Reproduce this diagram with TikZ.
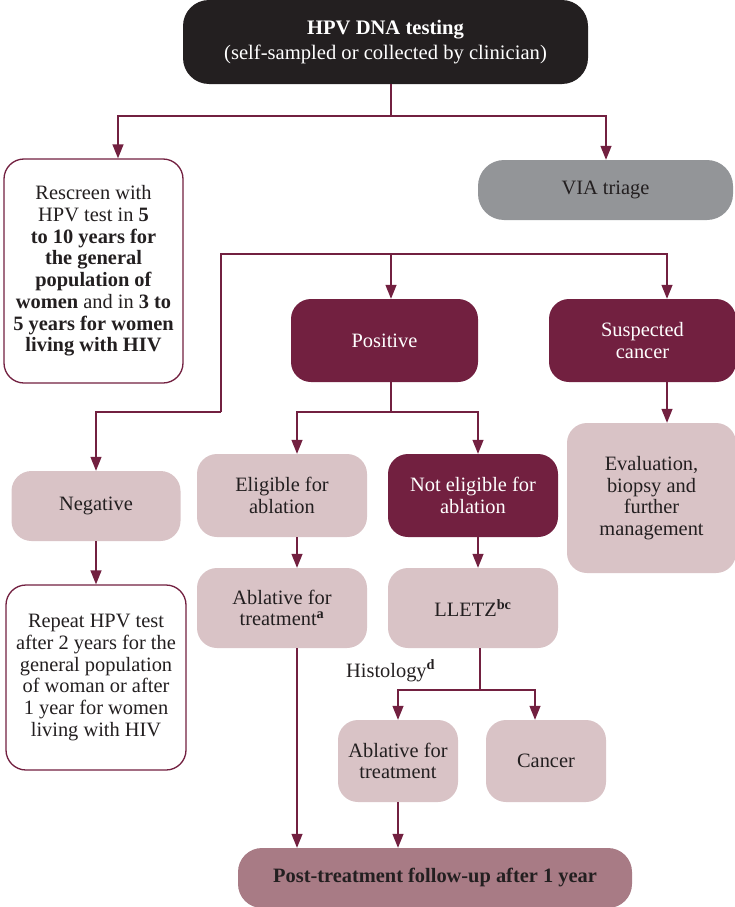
\documentclass[tikz,border=0pt]{standalone}
\usepackage{fontspec}
\setmainfont{Liberation Serif}
\usetikzlibrary{arrows.meta}

\definecolor{wine}{HTML}{722040}
\definecolor{blush}{HTML}{D9C3C6}
\definecolor{mauve}{HTML}{A87B85}
\definecolor{slate}{HTML}{939598}
\definecolor{ink}{HTML}{231F20}

\tikzset{
  box/.style={rectangle, rounded corners=20pt, align=center, inner sep=0pt,
    font=\fontsize{20.4}{21.7}\selectfont, text=ink},
  darkbox/.style={box, fill=wine, text=white},
  lightbox/.style={box, fill=blush},
  outlinebox/.style={box, draw=wine, line width=1.3pt, fill=white},
  link/.style={draw=wine, line width=1.3pt},
  arr/.style={link, -{Triangle[length=14pt,width=11pt]}},
}

\begin{document}
\begin{tikzpicture}[x=1pt,y=-1pt]
\useasboundingbox (0,0) rectangle (734,907);

% boxes
\node[box, fill=ink, text=white, minimum width=405pt, minimum height=84pt,
      rounded corners=26pt, font=\fontsize{20.6}{25}\selectfont]
  (top) at (385.5,42) {\textbf{HPV DNA testing}\\(self-sampled or collected by clinician)};

\node[outlinebox, minimum width=179pt, minimum height=224pt] (resc) at (93.5,271)
  {Rescreen with\\HPV test in \textbf{5}\\\textbf{to 10 years for}\\\textbf{the general}\\
   \textbf{population of}\\\textbf{women} and in \textbf{3 to}\\\textbf{5 years for women}\\
   \textbf{living with HIV}};

\node[box, fill=slate, minimum width=255pt, minimum height=60pt, rounded corners=26pt]
  (via) at (605.5,190) {VIA triage};

\node[darkbox, minimum width=187pt, minimum height=83pt] (pos) at (384.5,340.5) {Positive};
\node[darkbox, minimum width=187pt, minimum height=83pt] (susp) at (642.5,340.5) {Suspected\\cancer};

\node[lightbox, minimum width=169pt, minimum height=70pt] (neg) at (96,506) {Negative};
\node[outlinebox, minimum width=180pt, minimum height=185pt] (rep) at (96,677.5)
  {Repeat HPV test\\after 2 years for the\\general population\\of woman or after\\1 year for women\\living with HIV};

\node[lightbox, minimum width=170pt, minimum height=83pt] (elig) at (282,495.5) {Eligible for\\ablation};
\node[darkbox, minimum width=170pt, minimum height=83pt] (nelig) at (473,495.5) {Not eligible for\\ablation};
\node[lightbox, minimum width=169pt, minimum height=150pt] (eval) at (651.5,498)
  {Evaluation,\\biopsy and\\further\\management};

\node[lightbox, minimum width=170pt, minimum height=80pt] (abl1) at (282,608)
  {Ablative for\\treatment\textsuperscript{\textbf{a}}};
\node[lightbox, minimum width=170pt, minimum height=80pt] (lletz) at (473,608)
  {LLETZ\textsuperscript{\textbf{bc}}};

\node[lightbox, minimum width=120pt, minimum height=82pt] (abl2) at (398,761) {Ablative for\\treatment};
\node[lightbox, minimum width=120pt, minimum height=82pt] (cancer) at (546,761) {Cancer};

\node[box, fill=mauve, minimum width=394pt, minimum height=60pt, rounded corners=24pt]
  (post) at (435,878) {\textbf{Post-treatment follow-up after 1 year}};

\node[anchor=base west, inner sep=0pt, text=ink, font=\fontsize{20.4}{22}\selectfont]
  (histo) at (346,677) {Histology\textsuperscript{\textbf{d}}};

% junctions
\coordinate (j1) at (391,116);
\coordinate (j2) at (391,254);
\coordinate (j3) at (221,412);
\coordinate (j4) at (391,412);
\coordinate (j5) at (480,690);

% connectors
\draw[link] (top.south -| j1) -- (j1);
\draw[arr] (j1) -| ([xshift=24.5pt]resc.north);
\draw[arr] (j1) -| ([xshift=0.5pt]via.north);

\draw[arr] (j2) -- ([xshift=6.5pt]pos.north);
\draw[arr] (j2) -| ([xshift=24.5pt]susp.north);
\draw[link] (j2) -| (j3);
\draw[arr] (j3) -| (neg.north);

\draw[link] (pos.south -| j4) -- (j4);
\draw[arr] (j4) -| ([xshift=15pt]elig.north);
\draw[arr] (j4) -| ([xshift=5pt]nelig.north);

\draw[arr] ([xshift=15.5pt]eval.north |- susp.south) -- ([xshift=15.5pt]eval.north);
\draw[arr] (neg.south) -- (rep.north);
\draw[arr] ([xshift=15pt]elig.south) -- ([xshift=15pt]abl1.north);
\draw[arr] ([xshift=5pt]nelig.south) -- ([xshift=5pt]lletz.north);

\draw[link] (lletz.south -| j5) -- (j5);
\draw[arr] (j5) -| (abl2.north);
\draw[arr] (j5) -| ([xshift=-11pt]cancer.north);

\draw[arr] ([xshift=15pt]abl1.south) -- ([xshift=15pt]abl1.south |- post.north);
\draw[arr] (abl2.south) -- (abl2.south |- post.north);
\end{tikzpicture}
\end{document}
